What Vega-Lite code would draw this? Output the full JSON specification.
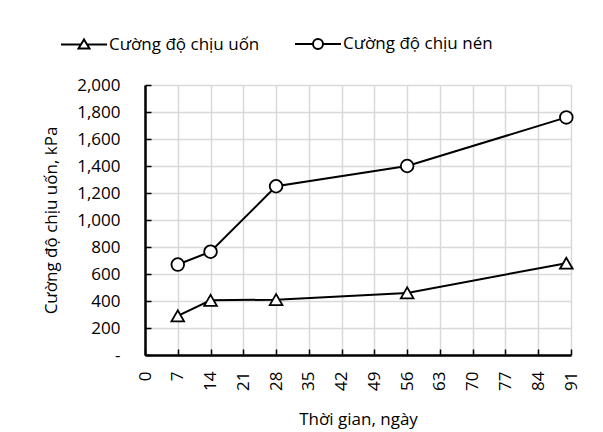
{
  "$schema": "https://vega.github.io/schema/vega-lite/v6.json",
  "autosize": {"type": "none"},
  "width": 426,
  "height": 270,
  "padding": {"left": 145, "top": 85, "right": 32, "bottom": 77},
  "background": "white",
  "config": {
    "font": "Open Sans",
    "view": {"stroke": null},
    "axis": {
      "labelFont": "Open Sans",
      "titleFont": "Open Sans",
      "labelFontSize": 17,
      "titleFontSize": 17,
      "labelColor": "black",
      "titleColor": "black",
      "titleFontWeight": "normal",
      "gridColor": "#d9d9d9",
      "gridWidth": 1.5,
      "domainColor": "black",
      "domainWidth": 2.5,
      "tickColor": "black",
      "tickWidth": 1.5
    }
  },
  "data": {
    "values": [
      {"day": 7, "value": 290, "series": "Cường độ chịu uốn"},
      {"day": 14, "value": 405, "series": "Cường độ chịu uốn"},
      {"day": 28, "value": 410, "series": "Cường độ chịu uốn"},
      {"day": 56, "value": 460, "series": "Cường độ chịu uốn"},
      {"day": 90, "value": 680, "series": "Cường độ chịu uốn"},
      {"day": 7, "value": 670, "series": "Cường độ chịu nén"},
      {"day": 14, "value": 765, "series": "Cường độ chịu nén"},
      {"day": 28, "value": 1250, "series": "Cường độ chịu nén"},
      {"day": 56, "value": 1400, "series": "Cường độ chịu nén"},
      {"day": 90, "value": 1760, "series": "Cường độ chịu nén"}
    ]
  },
  "encoding": {
    "x": {
      "field": "day",
      "type": "quantitative",
      "scale": {"domain": [0, 91], "nice": false, "zero": false},
      "axis": {
        "title": "Thời gian, ngày",
        "values": [0, 7, 14, 21, 28, 35, 42, 49, 56, 63, 70, 77, 84, 91],
        "labelAngle": -90,
        "labelAlign": "right",
        "labelBaseline": "middle",
        "labelPadding": 22,
        "tickSize": -6,
        "titlePadding": 21,
        "labelFlush": false,
        "labelOverlap": false
      }
    },
    "y": {
      "field": "value",
      "type": "quantitative",
      "scale": {"domain": [0, 2000], "nice": false},
      "axis": {
        "title": "Cường độ chịu uốn, kPa",
        "values": [0, 200, 400, 600, 800, 1000, 1200, 1400, 1600, 1800, 2000],
        "labelExpr": "datum.value == 0 ? '-' : format(datum.value, ',')",
        "tickSize": -6,
        "labelPadding": 31,
        "titlePadding": 16,
        "labelFlush": false,
        "labelOverlap": false
      }
    }
  },
  "layer": [
    {
      "mark": {"type": "line", "color": "black", "strokeWidth": 2},
      "encoding": {"detail": {"field": "series"}}
    },
    {
      "mark": {"type": "point", "filled": true, "stroke": "black", "strokeWidth": 1.8, "opacity": 1},
      "encoding": {
        "shape": {
          "field": "series",
          "type": "nominal",
          "scale": {"domain": ["Cường độ chịu uốn", "Cường độ chịu nén"], "range": ["triangle-up", "circle"]},
          "legend": null
        },
        "color": {
          "field": "series",
          "type": "nominal",
          "sort": ["Cường độ chịu uốn", "Cường độ chịu nén"],
          "scale": {"range": ["white", "white"]},
          "legend": {
            "title": null,
            "orient": "none",
            "direction": "horizontal",
            "legendX": -72,
            "legendY": -52,
            "symbolSize": 400,
            "labelFontSize": 17,
            "labelFont": "Open Sans",
            "labelColor": "black",
            "labelOffset": 14,
            "columnPadding": 31,
            "encoding": {
              "symbols": {
                "shape": {"value": {"expr": "datum.value === 'Cường độ chịu uốn' ? 'M-2.3,0L-0.3,0M0.3,0L2.3,0M0,-0.5L0.55,0.4L-0.55,0.4Z' : 'M-2.3,0L-0.5,0M0.5,0L2.3,0M-0.5,0A0.5,0.5 0 1,1 0.5,0A0.5,0.5 0 1,1 -0.5,0Z'"}},
                "stroke": {"value": "black"},
                "strokeWidth": {"value": 2},
                "opacity": {"value": 1}
              }
            }
          }
        },
        "size": {"value": 160}
      }
    }
  ]
}
